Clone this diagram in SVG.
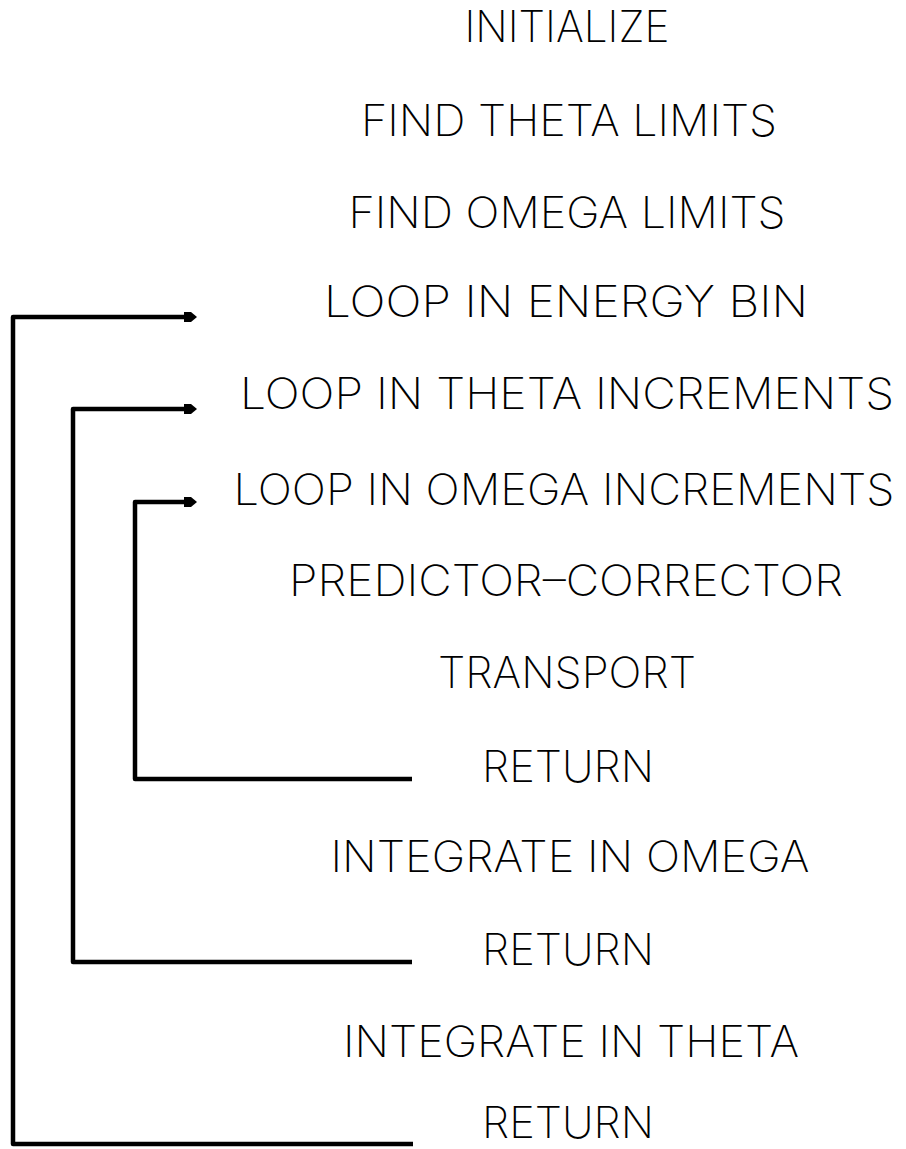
<svg xmlns="http://www.w3.org/2000/svg" width="906" height="1149" viewBox="0 0 906 1149">
  <defs>
    <style>
      .step { font-family: Inter, "Liberation Sans Narrow", "Liberation Sans", sans-serif; font-weight: 200; font-size: 43px; fill: #000; text-anchor: middle; }
      .loop { fill: none; stroke: #000; stroke-width: 4.5; stroke-linejoin: round; stroke-linecap: butt; }
    </style>
    <marker id="head" markerUnits="userSpaceOnUse" markerWidth="16" markerHeight="16" refX="4" refY="8" orient="auto">
      <path d="M0,3 L7,3 L13,8 L7,13 L0,13 Z" fill="#000"/>
    </marker>
  </defs>
  <rect width="906" height="1149" fill="#fff"/>

  <!-- loop back-edges -->
  <g id="connectors">
    <path class="loop" d="M413,1144 H13 V317 H188" marker-end="url(#head)"/>
    <path class="loop" d="M412,962 H73 V409 H188" marker-end="url(#head)"/>
    <path class="loop" d="M412,779 H135 V502 H188" marker-end="url(#head)"/>
  </g>

  <!-- program steps -->
  <g id="n-initialize"><text class="step" x="567" y="42" textLength="205" lengthAdjust="spacingAndGlyphs">INITIALIZE</text></g>
  <g id="n-theta-limits"><text class="step" x="569" y="136" textLength="416" lengthAdjust="spacingAndGlyphs">FIND THETA LIMITS</text></g>
  <g id="n-omega-limits"><text class="step" x="567" y="228" textLength="437" lengthAdjust="spacingAndGlyphs">FIND OMEGA LIMITS</text></g>
  <g id="n-energy-loop"><text class="step" x="566" y="317" textLength="484" lengthAdjust="spacingAndGlyphs">LOOP IN ENERGY BIN</text></g>
  <g id="n-theta-loop"><text class="step" x="567" y="409" textLength="654" lengthAdjust="spacingAndGlyphs">LOOP IN THETA INCREMENTS</text></g>
  <g id="n-omega-loop"><text class="step" x="564" y="505" textLength="661" lengthAdjust="spacingAndGlyphs">LOOP IN OMEGA INCREMENTS</text></g>
  <g id="n-predictor"><text class="step" x="566" y="596" textLength="554" lengthAdjust="spacingAndGlyphs">PREDICTOR–CORRECTOR</text></g>
  <g id="n-transport"><text class="step" x="567" y="688" textLength="258" lengthAdjust="spacingAndGlyphs">TRANSPORT</text></g>
  <g id="n-return-1"><text class="step" x="568" y="782" textLength="172" lengthAdjust="spacingAndGlyphs">RETURN</text></g>
  <g id="n-integrate-omega"><text class="step" x="570" y="872" textLength="479" lengthAdjust="spacingAndGlyphs">INTEGRATE IN OMEGA</text></g>
  <g id="n-return-2"><text class="step" x="568" y="965" textLength="172" lengthAdjust="spacingAndGlyphs">RETURN</text></g>
  <g id="n-integrate-theta"><text class="step" x="571" y="1057" textLength="456" lengthAdjust="spacingAndGlyphs">INTEGRATE IN THETA</text></g>
  <g id="n-return-3"><text class="step" x="568" y="1138" textLength="172" lengthAdjust="spacingAndGlyphs">RETURN</text></g>
</svg>
